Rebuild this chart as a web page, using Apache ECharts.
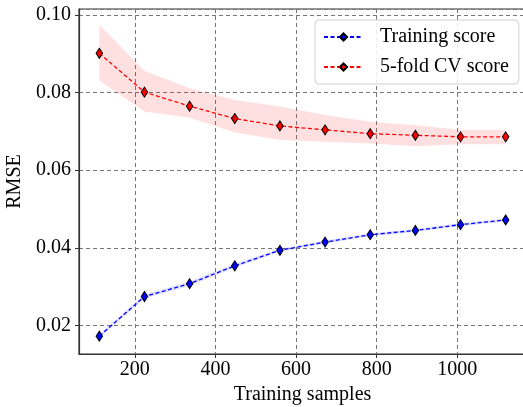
<!DOCTYPE html>
<html>
<head>
<meta charset="utf-8">
<script src="https://cdn.jsdelivr.net/npm/echarts@6/dist/echarts.min.js"></script>
<style>
  html, body { margin: 0; padding: 0; background: #fff; }
  #chart { width: 523px; height: 407px; }
</style>
</head>
<body>
<div id="chart"></div>
<script>
// training set sizes
var samples = [112, 224, 336, 448, 560, 672, 784, 896, 1008, 1120];
// training score (mean, band)
var trainMean = [0.0173, 0.0275, 0.0308, 0.0354, 0.0394, 0.0415, 0.0434, 0.0445, 0.0460, 0.0472];
var trainLow  = [0.0168, 0.0270, 0.0302, 0.0349, 0.0390, 0.0411, 0.0430, 0.0441, 0.0456, 0.0468];
var trainHigh = [0.0178, 0.0280, 0.0314, 0.0359, 0.0398, 0.0419, 0.0438, 0.0449, 0.0464, 0.0476];
// 5-fold cv score (mean, band)
var cvMean = [0.0901, 0.0801, 0.0765, 0.0733, 0.0714, 0.0704, 0.0694, 0.0690, 0.0686, 0.0686];
var cvLow  = [0.0831, 0.0751, 0.0735, 0.0697, 0.0678, 0.0673, 0.0669, 0.0662, 0.0667, 0.0667];
var cvHigh = [0.0974, 0.0856, 0.0811, 0.0781, 0.0764, 0.0742, 0.0725, 0.0716, 0.0704, 0.0704];

var font = '"Liberation Serif", "DejaVu Serif", serif';
var chart = echarts.init(document.getElementById('chart'));

function pairs(xs, ys) {
    var out = [];
    for (var i = 0; i < xs.length; i++) out.push([xs[i], ys[i]]);
    return out;
}

// band drawn as one polygon through the axis coords
function bandSeries(lo, hi, fill) {
    return {
        type: 'custom',
        silent: true,
        clip: true,
        z: 1,
        data: pairs(samples, lo),
        renderItem: function (params, api) {
            if (params.dataIndex !== 0) return;
            var pts = [];
            for (var i = 0; i < samples.length; i++) pts.push(api.coord([samples[i], hi[i]]));
            for (var j = samples.length - 1; j >= 0; j--) pts.push(api.coord([samples[j], lo[j]]));
            return { type: 'polygon', shape: { points: pts }, style: { fill: fill } };
        }
    };
}

function lineSeries(name, ys, color) {
    return {
        name: name,
        type: 'line',
        z: 3,
        data: pairs(samples, ys),
        symbol: 'diamond',
        symbolSize: [6.5, 10],
        itemStyle: { color: color, borderColor: '#000', borderWidth: 1 },
        lineStyle: { color: color, width: 1.3, type: [4, 2.5] },
        animation: false
    };
}

var option = {
    animation: false,
    grid: {
        left: 79, top: 9, width: 447, height: 345,
        outerBoundsMode: 'none', containLabel: false,
        show: true, borderColor: '#333', borderWidth: 1.2
    },
    legend: {
        left: 315, top: 20,
        orient: 'vertical',
        itemWidth: 39, itemHeight: 9, itemGap: 10,
        padding: [7, 10, 7, 8],
        backgroundColor: 'rgba(255,255,255,0.85)',
        borderColor: '#d0d0d0', borderWidth: 1, borderRadius: 4,
        textStyle: { fontFamily: font, fontSize: 20, color: '#000', padding: [0, 0, 0, 12] },
        data: ['Training score', '5-fold CV score']
    },
    xAxis: {
        type: 'value', min: 61.6, max: 1170.4, splitNumber: 5,
        name: 'Training samples', nameLocation: 'middle', nameGap: 28,
        nameTextStyle: { fontFamily: font, fontSize: 20, color: '#000' },
        axisLine: { onZero: false, lineStyle: { color: '#333', width: 1.2 } },
        axisTick: { length: 4, lineStyle: { color: '#333' } },
        axisLabel: {
            showMinLabel: false, showMaxLabel: false, margin: 6,
            fontFamily: font, fontSize: 20, color: '#000',
            formatter: function (v) { return String(Math.round(v)); }
        },
        splitLine: { show: true, lineStyle: { color: '#777', type: [4, 3], width: 1 } }
    },
    yAxis: {
        type: 'value', min: 0.0127, max: 0.1015, splitNumber: 5,
        name: 'RMSE', nameLocation: 'middle', nameGap: 44,
        nameTextStyle: { fontFamily: font, fontSize: 20, color: '#000' },
        axisLine: { show: true, onZero: false, lineStyle: { color: '#333', width: 1.2 } },
        axisTick: { show: true, length: 4, lineStyle: { color: '#333' } },
        axisLabel: {
            showMinLabel: false, showMaxLabel: false, margin: 8,
            fontFamily: font, fontSize: 20, color: '#000',
            formatter: function (v) { return v.toFixed(2); }
        },
        splitLine: { show: true, lineStyle: { color: '#777', type: [4, 3], width: 1 } }
    },
    series: [
        bandSeries(cvLow, cvHigh, 'rgba(255,0,0,0.12)'),
        bandSeries(trainLow, trainHigh, 'rgba(0,0,255,0.12)'),
        lineSeries('Training score', trainMean, '#0000ff'),
        lineSeries('5-fold CV score', cvMean, '#ff0000')
    ]
};
chart.setOption(option);
</script>
</body>
</html>
